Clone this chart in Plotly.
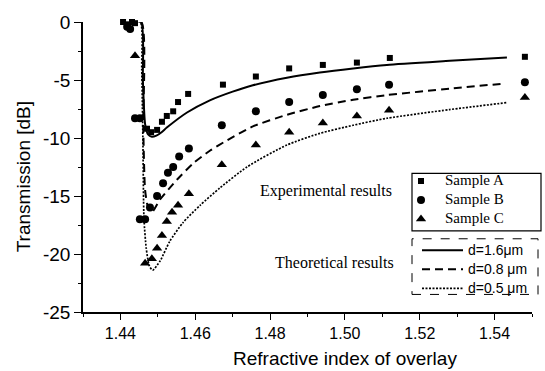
import plotly.graph_objects as go

a_x = [1.4407, 1.4420, 1.4431, 1.4439, 1.4471, 1.4482, 1.4498, 1.4511, 1.4524, 1.4541, 1.4554,
       1.4581, 1.4674, 1.4762, 1.4851, 1.4941, 1.5032, 1.5120, 1.5481]
a_y = [0.0, -0.2, 0.0, -0.1, -9.2, -9.5, -9.3, -8.6, -8.1, -7.7, -6.9,
       -6.2, -5.4, -4.7, -4.0, -3.7, -3.5, -3.1, -3.0]

b_x = [1.4418, 1.4426, 1.4439, 1.4452, 1.4452, 1.4466, 1.4479, 1.4498, 1.4514, 1.4527, 1.4541,
       1.4557, 1.4583, 1.4671, 1.4762, 1.4851, 1.4941, 1.5032, 1.5118, 1.5481]
b_y = [-0.4, -0.6, -8.3, -8.3, -17.0, -17.0, -16.0, -15.0, -13.9, -13.0, -12.5,
       -11.6, -10.9, -8.9, -7.7, -6.9, -6.3, -5.8, -5.4, -5.2]

c_x = [1.4439, 1.4466, 1.4484, 1.4498, 1.4511, 1.4524, 1.4538, 1.4554, 1.4583, 1.4671,
       1.4762, 1.4851, 1.4941, 1.5032, 1.5118, 1.5481]
c_y = [-2.9, -20.8, -20.4, -19.5, -18.4, -17.2, -16.4, -15.8, -14.8, -12.3,
       -10.6, -9.5, -8.7, -8.1, -7.6, -6.5]

# ---- theoretical curves ----
t16_x = [1.4420, 1.4455, 1.4460, 1.4466, 1.4474, 1.4484, 1.4496, 1.4510, 1.4524, 1.4578, 1.4639,
         1.4700, 1.4754, 1.4845, 1.4933, 1.5022, 1.5112, 1.5280, 1.5433]
t16_y = [0.0, 0.0, -5.0, -8.8, -9.7, -9.9, -9.8, -9.5, -9.1, -7.8, -6.75,
         -6.0, -5.45, -4.8, -4.35, -4.0, -3.7, -3.35, -3.05]

t08_x = [1.4420, 1.4456, 1.4461, 1.4466, 1.4474, 1.4484, 1.4506, 1.4551, 1.4594, 1.4639, 1.4685,
         1.4754, 1.4845, 1.4933, 1.5022, 1.5112, 1.5280, 1.5428]
t08_y = [0.0, 0.0, -9.0, -14.5, -16.0, -16.4, -15.3, -13.6, -12.2, -11.1, -10.2,
         -9.0, -8.0, -7.25, -6.7, -6.3, -5.75, -5.3]

t05_x = [1.4420, 1.4453, 1.4457, 1.4460, 1.4463, 1.4469, 1.4477, 1.4486, 1.4506, 1.4532, 1.4567,
         1.4613, 1.4666, 1.4738, 1.4845, 1.4933, 1.5022, 1.5112, 1.5280, 1.5433]
t05_y = [0.0, 0.0, -4.0, -10.0, -17.0, -19.5, -21.0, -21.4, -20.6, -18.9, -17.3,
         -15.8, -14.3, -12.5, -10.6, -9.6, -8.9, -8.3, -7.55, -6.95]

x_ticks = [1.44, 1.46, 1.48, 1.50, 1.52, 1.54]
x_tick_text = ["1.44", "1.46", "1.48", "1.50", "1.52", "1.54"]
y_ticks = [0, -5, -10, -15, -20, -25]
y_tick_text = ["0", "-5", "-10", "-15", "-20", "-25"]

SANS = "Liberation Sans, Arial, sans-serif"
SERIF = "Liberation Serif, Times New Roman, serif"


def big(txt, size):
    return "<span style='font-size:%dpx'>%s</span>" % (size, txt)


fig = go.Figure()

# theoretical lines (legend2)
fig.add_trace(go.Scatter(x=t16_x, y=t16_y, mode="lines", name=big("d=1.6μm", 14), legend="legend2",
                         line=dict(color="black", width=2, dash="solid", shape="spline", smoothing=0.6)))
fig.add_trace(go.Scatter(x=t08_x, y=t08_y, mode="lines", name=big("d=0.8 μm", 14), legend="legend2",
                         line=dict(color="black", width=2, dash="8px,5px", shape="spline", smoothing=0.6)))
fig.add_trace(go.Scatter(x=t05_x, y=t05_y, mode="lines", name=big("d=0.5 μm", 14), legend="legend2",
                         line=dict(color="black", width=1.7, dash="2px,1.5px", shape="spline", smoothing=0.6)))

# experimental markers (legend)
fig.add_trace(go.Scatter(x=a_x, y=a_y, mode="markers", name=big("Sample A", 15), legend="legend",
                         marker=dict(symbol="square", size=6, color="black"), cliponaxis=False))
fig.add_trace(go.Scatter(x=b_x, y=b_y, mode="markers", name=big("Sample B", 15), legend="legend",
                         marker=dict(symbol="circle", size=8, color="black"), cliponaxis=False))
fig.add_trace(go.Scatter(x=c_x, y=c_y, mode="markers", name=big("Sample C", 15), legend="legend",
                         marker=dict(symbol="triangle-up", size=9, color="black"), cliponaxis=False))

W, H = 545, 371
L, R, T, B = 83, 13, 15, 59
pw, ph = W - L - R, H - T - B


def px(xp):
    return (xp - L) / pw


def py(yp):
    return (H - B - yp) / ph


fig.update_layout(
    width=W, height=H,
    margin=dict(l=L, r=R, t=T, b=B),
    paper_bgcolor="white", plot_bgcolor="white",
    font=dict(family=SANS, color="black"),
    xaxis=dict(range=[1.43, 1.55], tickvals=x_ticks, ticktext=x_tick_text,
               showgrid=False, zeroline=False, showline=True, linecolor="black", linewidth=1.5,
               ticks="outside", ticklen=6, tickwidth=1.3, tickcolor="black",
               tickfont=dict(family=SANS, size=16, color="black"),
               minor=dict(dtick=0.01, tick0=1.44, ticks="outside", ticklen=3, tickwidth=1, tickcolor="black")),
    yaxis=dict(range=[-25, 0], tickvals=y_ticks, ticktext=y_tick_text,
               showgrid=False, zeroline=False, showline=True, linecolor="black", linewidth=1.5,
               ticks="outside", ticklen=7, tickwidth=1.3, tickcolor="black",
               tickfont=dict(family=SANS, size=19, color="black"),
               minor=dict(dtick=2.5, tick0=0, ticks="outside", ticklen=3, tickwidth=1, tickcolor="black")),
    legend=dict(x=px(397), y=py(163), xanchor="left", yanchor="top",
                bgcolor="rgba(0,0,0,0)", borderwidth=0,
                font=dict(family=SERIF, size=11, color="black"), itemwidth=38,
                tracegroupgap=0),
    legend2=dict(x=px(417), y=py(234), xanchor="left", yanchor="top",
                 bgcolor="rgba(0,0,0,0)", borderwidth=0,
                 font=dict(family=SANS, size=11.3, color="black"), itemwidth=41,
                 tracegroupgap=0),
    showlegend=True,
    shapes=[
        dict(type="rect", xref="paper", yref="paper", x0=px(412), x1=px(541), y0=py(229), y1=py(170),
             line=dict(color="black", width=1.2)),
        dict(type="rect", xref="paper", yref="paper", x0=px(412), x1=px(538), y0=py(294), y1=py(237),
             line=dict(color="black", width=1, dash="dash")),
    ],
    annotations=[
        dict(text="Experimental results", xref="paper", yref="paper", x=px(258), y=py(188),
             xanchor="left", yanchor="middle", showarrow=False,
             font=dict(family=SERIF, size=16, color="black")),
        dict(text="Theoretical results", xref="paper", yref="paper", x=px(273), y=py(261),
             xanchor="left", yanchor="middle", showarrow=False,
             font=dict(family=SERIF, size=16, color="black")),
        dict(text="Refractive index of overlay", xref="paper", yref="paper", x=px(345), y=py(360),
             xanchor="center", yanchor="middle", showarrow=False,
             font=dict(family=SANS, size=19, color="black")),
        dict(text="Transmission [dB]", xref="paper", yref="paper", x=px(23), y=py(173),
             xanchor="center", yanchor="middle", showarrow=False, textangle=-90,
             font=dict(family=SANS, size=19, color="black")),
    ],
)

fig.write_html("out.html")
